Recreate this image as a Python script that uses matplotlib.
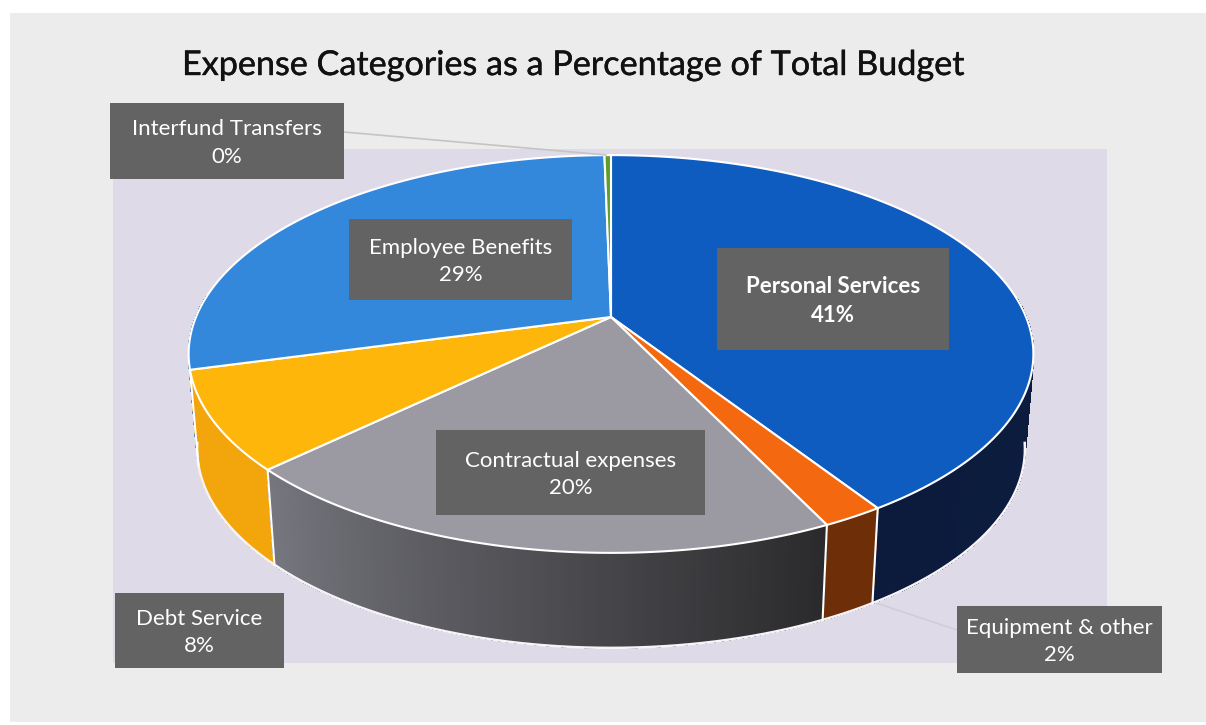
import numpy as np
import matplotlib
matplotlib.use('Agg')
import matplotlib.pyplot as plt
import matplotlib.patheffects as pe
from matplotlib.patches import Polygon, Rectangle
from matplotlib.collections import PolyCollection
from matplotlib.colors import to_rgb

plt.rcParams['font.family'] = ['Lato', 'DejaVu Sans']

title = 'Expense Categories as a Percentage of Total Budget'
categories = ['Personal Services', 'Equipment & other', 'Contractual expenses',
              'Debt Service', 'Employee Benefits', 'Interfund Transfers']
values = [41, 2, 20, 8, 29, 0.3]

top_colors = ['#0f5cc0', '#f4690f', '#9b9aa3', '#ffb60a', '#3488dc', '#5f9e2a']
# side wall colour at the start and at the end of each slice, going clockwise
side_colors = [('#0e2044', '#0c1b3c'), ('#6e2f08', '#6e2f08'), ('#2a2a2c', '#76767e'),
               ('#f2a60c', '#f2a60c'), ('#2c6cb0', '#2c6cb0'), ('#3f7a1e', '#3f7a1e')]

# label box: left, top, right, bottom in figure pixels
boxes = [(717, 248, 949, 350), (957, 606, 1162, 673), (436, 430, 705, 515),
         (115, 593, 284, 668), (349, 219, 572, 300), (110, 103, 344, 179)]

# pie geometry in figure pixels
CX, CY = 611, 317
RX, RY = 415, 192
K = 0.186
DEPTH = 95
SHRINK = 0.98
VISIBLE = -0.15  # rim points with cos(theta) below this face the viewer


def top_rim(theta):
    u, v = np.sin(theta), np.cos(theta)
    w = 1 + K * v
    return CX + RX * u / w, CY - RY * v / w


def low_rim(theta):
    x, y = top_rim(theta)
    return CX + (x - CX) * SHRINK, y + DEPTH


fig = plt.figure(figsize=(12.06, 7.25), dpi=100, facecolor='white')
ax = fig.add_axes([0, 0, 1, 1])
ax.set_xlim(0, 1206)
ax.set_ylim(725, 0)
ax.axis('off')

# page and plot area
ax.add_patch(Rectangle((10, 13), 1196, 709, facecolor='#ececec', edgecolor='none', zorder=0))
ax.add_patch(Rectangle((113, 149), 994, 514, facecolor='#dfdae7', edgecolor='none', zorder=1))

fractions = np.array(values) / sum(values)
ends = np.cumsum(fractions) * 2 * np.pi
starts = ends - fractions * 2 * np.pi

# side walls, the ones further back first; the far half is hidden so it is skipped
mids = (starts + ends) / 2
for i in np.argsort(-np.cos(mids)):
    t = np.linspace(starts[i], ends[i], 121)
    xt, yt = top_rim(t)
    xl, yl = low_rim(t)
    quads, cols = [], []
    c0, c1 = [np.array(to_rgb(c)) for c in side_colors[i]]
    for j in range(len(t) - 1):
        if np.cos(t[j]) > 0.1:
            continue
        quads.append([(xt[j], yt[j]), (xt[j + 1], yt[j + 1]), (xl[j + 1], yl[j + 1]), (xl[j], yl[j])])
        cols.append(c0 + (c1 - c0) * j / (len(t) - 2))
    if quads:
        ax.add_collection(PolyCollection(quads, facecolors=cols, edgecolors=cols, linewidths=0.8,
                                         antialiaseds=False, zorder=2))

# white bottom edge of the wall and the seams between slices
t = np.linspace(0, 2 * np.pi, 721)
t = t[np.cos(t) < VISIBLE]
xl, yl = low_rim(t)
ax.plot(xl, yl, color='#f6f4f8', linewidth=1.8, zorder=2.5)
for b in ends:
    if np.cos(b) < VISIBLE:
        xa, ya = top_rim(b)
        xb, yb = low_rim(b)
        ax.plot([xa, xb], [ya, yb], color='white', linewidth=1.5, zorder=2.5)

# top faces
for i in range(len(values)):
    t = np.linspace(starts[i], ends[i], 200)
    xt, yt = top_rim(t)
    pts = np.column_stack([np.r_[CX, xt], np.r_[CY, yt]])
    ax.add_patch(Polygon(pts, closed=True, facecolor=top_colors[i], edgecolor='white',
                         linewidth=1.5, joinstyle='round', zorder=3))

# leader lines for the two labels outside the pie
ax.plot([344, 606], [132, 155], color='#c4c4c4', linewidth=1.2, zorder=4)
ax.plot([876, 957], [603, 630], color='#cfcbd6', linewidth=1, zorder=2)

# data labels
for i, name in enumerate(categories):
    x0, y0, x1, y1 = boxes[i]
    ax.add_patch(Rectangle((x0, y0), x1 - x0, y1 - y0, facecolor='#636363',
                           edgecolor='none', zorder=5))
    weight = 'bold' if i == 0 else 'normal'
    ax.text((x0 + x1) / 2, (y0 + y1) / 2 + 2, f'{name}\n{values[i]:.0f}%', color='white',
            fontsize=16, fontweight=weight, ha='center', va='center',
            linespacing=1.45, zorder=6)

ax.text(182, 65, title, fontsize=24.6, color='#111111', ha='left', va='center', zorder=6,
        path_effects=[pe.withStroke(linewidth=0.3, foreground='#111111')])

fig.savefig('out.png', dpi=100)
